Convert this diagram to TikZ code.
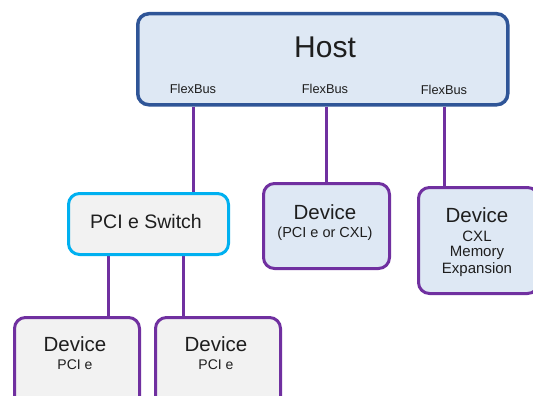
\documentclass[tikz,border=0pt]{standalone}
\usepackage{fontspec}
\setmainfont{Liberation Sans}
\usetikzlibrary{backgrounds,calc}
\definecolor{hostborder}{HTML}{2F5597}
\definecolor{hostfill}{HTML}{DEE8F4}
\definecolor{purp}{HTML}{7030A0}
\definecolor{cyanb}{HTML}{00B0F0}
\definecolor{greyfill}{HTML}{F2F2F2}
\definecolor{txt}{HTML}{1E1E1E}
\tikzset{
  box/.style={draw, rounded corners=11pt, inner sep=0pt, anchor=north west},
  hostbox/.style={box, draw=hostborder, fill=hostfill, line width=3.5pt},
  devbox/.style={box, draw=purp, line width=3pt},
  swbox/.style={box, draw=cyanb, fill=greyfill, line width=3pt},
  lbl/.style={inner sep=0pt, text=txt, align=center},
  conn/.style={draw=purp, line width=3pt},
}
\begin{document}
\begin{tikzpicture}[x=1pt,y=-1pt]
\clip (0,0) rectangle (533,396);
% Host
\node[hostbox, minimum width=370pt, minimum height=91pt] (host) at (136,12) {};
\node[lbl, font=\fontsize{30}{32}\selectfont] (hostt) at (325,47) {Host};
\node[lbl, font=\fontsize{12.8}{14}\selectfont] (fb1) at (193,89) {FlexBus};
\node[lbl, font=\fontsize{12.8}{14}\selectfont] (fb2) at (325,89) {FlexBus};
\node[lbl, font=\fontsize{12.8}{14}\selectfont] (fb3) at (444,90) {FlexBus};
% PCIe switch
\node[swbox, minimum width=160pt, minimum height=61pt] (sw) at (67,192) {};
\node[lbl, font=\fontsize{19.5}{22}\selectfont] (swt) at (146,222) {PCI e Switch};
% middle device
\node[devbox, fill=hostfill, minimum width=126pt, minimum height=85pt] (dev2) at (262,182) {};
\node[lbl, font=\fontsize{20.5}{22}\selectfont] (dev2a) at (325,212) {Device};
\node[lbl, font=\fontsize{14.5}{16}\selectfont] (dev2b) at (325,234) {(PCI e or CXL)};
% right device
\node[devbox, fill=hostfill, minimum width=120pt, minimum height=106pt] (dev3) at (417,186) {};
\node[lbl, font=\fontsize{20.5}{22}\selectfont] (dev3a) at (477,215) {Device};
\node[lbl, font=\fontsize{15}{17}\selectfont] (dev3b) at (477,236) {CXL};
\node[lbl, font=\fontsize{15}{17}\selectfont] (dev3c) at (477,253) {Memory};
\node[lbl, font=\fontsize{15}{17}\selectfont] (dev3d) at (477,270) {Expansion};
% bottom devices
\node[devbox, fill=greyfill, minimum width=125pt, minimum height=100pt] (dev4) at (13,316) {};
\node[lbl, font=\fontsize{20.5}{22}\selectfont] (dev4a) at (75,344) {Device};
\node[lbl, font=\fontsize{14}{16}\selectfont] (dev4b) at (75,365) {PCI e};
\node[devbox, fill=greyfill, minimum width=125pt, minimum height=100pt] (dev5) at (154,316) {};
\node[lbl, font=\fontsize{20.5}{22}\selectfont] (dev5a) at (216,344) {Device};
\node[lbl, font=\fontsize{14}{16}\selectfont] (dev5b) at (216,365) {PCI e};
% connectors
\coordinate (s1) at ($(sw.south west)!0.256!(sw.south east)$);
\coordinate (s2) at ($(sw.south west)!0.712!(sw.south east)$);
\begin{scope}[on background layer]
\draw[conn] (fb1 |- host.south) -- (fb1 |- sw.north);
\draw[conn] (dev2.north |- host.south) -- (dev2.north);
\draw[conn] (fb3 |- host.south) -- (fb3 |- dev3.north);
\draw[conn] (s1) -- (s1 |- dev4.north);
\draw[conn] (s2) -- (s2 |- dev5.north);
\end{scope}
\end{tikzpicture}
\end{document}
